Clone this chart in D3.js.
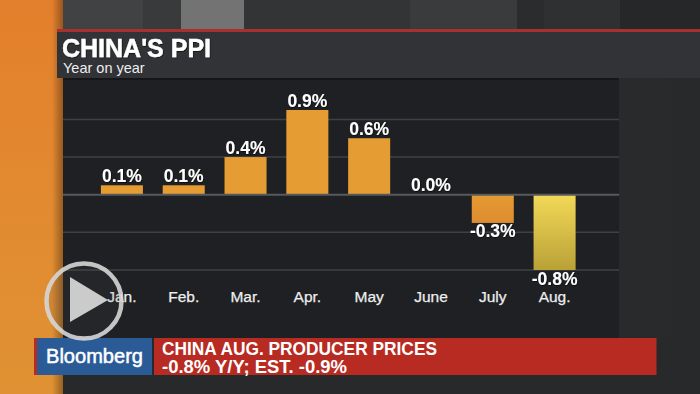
<!DOCTYPE html>
<html><head><meta charset="utf-8">
<script src="https://cdn.jsdelivr.net/npm/d3@7"></script>
<style>html,body{margin:0;padding:0;background:#2a2b2d;overflow:hidden}svg{display:block}text{font-family:"Liberation Sans",Arial,sans-serif}</style>
</head><body><svg id="c" width="700" height="394"></svg>
<script>
const categories=["Jan.","Feb.","Mar.","Apr.","May","June","July","Aug."];
const values=[0.1,0.1,0.4,0.9,0.6,0.0,-0.3,-0.8];
const valueLabels=["0.1%","0.1%","0.4%","0.9%","0.6%","0.0%","-0.3%","-0.8%"];
const gridValues=[0.8,0.4,-0.4,-0.8];
const title="CHINA'S PPI";
const subtitle="Year on year";
const brand="Bloomberg";
const tickerLines=["CHINA AUG. PRODUCER PRICES","-0.8% Y/Y; EST. -0.9%"];
const topStripes=[[63,143,"#414244"],[143,181,"#393a3c"],[181,244,"#737374"],[244,410,"#333436"],[410,517,"#3a3b3d"],[517,544,"#2b2c2e"],[544,620,"#2f3032"],[620,700,"#262729"]];

const svg=d3.select("#c");
const defs=svg.append("defs");
function grad(id,stops,x2=0,y2=1){const g=defs.append("linearGradient").attr("id",id).attr("x1",0).attr("y1",0).attr("x2",x2).attr("y2",y2);
  stops.forEach(([o,c])=>g.append("stop").attr("offset",o).attr("stop-color",c));}
grad("orange",[[0,"#e37f2c"],[0.5,"#e28a30"],[1,"#df9233"]]);
grad("edge",[[0,"#00000000"],[1,"#00000055"]],1,0);
grad("aug",[[0,"#f3d957"],[1,"#b9a137"]]);
grad("jul",[[0,"#e59a33"],[1,"#dd8d2f"]]);
grad("right",[[0,"#37383a"],[0.5,"#2d2e30"],[1,"#28292b"]],1,0);
const shadow=defs.append("filter").attr("id","ts").attr("x","-10%").attr("y","-10%").attr("width","125%").attr("height","130%");
shadow.append("feDropShadow").attr("dx",0.6).attr("dy",0.8).attr("stdDeviation",0.5).attr("flood-color","#000").attr("flood-opacity",0.7);

// backdrop
svg.append("rect").attr("width",700).attr("height",394).attr("fill","url(#right)");
svg.selectAll(".stripe").data(topStripes).join("rect").attr("x",d=>d[0]).attr("y",0).attr("width",d=>d[1]-d[0]).attr("height",29).attr("fill",d=>d[2]);
svg.append("rect").attr("x",0).attr("y",0).attr("width",63).attr("height",394).attr("fill","url(#orange)");
svg.append("rect").attr("x",52).attr("y",0).attr("width",11).attr("height",394).attr("fill","url(#edge)");
svg.append("rect").attr("x",63).attr("y",336).attr("width",637).attr("height",58).attr("fill","#28292b");

// panels
svg.append("rect").attr("x",63).attr("y",78).attr("width",556).attr("height",260).attr("fill","#1f2023");
svg.append("rect").attr("x",63).attr("y",78).attr("width",556).attr("height",2).attr("fill","#151618");
svg.append("rect").attr("x",57).attr("y",31).attr("width",643).attr("height",47).attr("fill","#323336");
svg.append("rect").attr("x",57).attr("y",29).attr("width",643).attr("height",3).attr("fill","#a8312f");
svg.append("text").attr("x",62).attr("y",56.5).attr("font-size",25).attr("font-weight",700).attr("fill","#fff").attr("stroke","#fff").attr("stroke-width",0.4).attr("filter","url(#ts)").text(title);
svg.append("text").attr("x",63).attr("y",73).attr("font-size",14.5).attr("fill","#eee").text(subtitle);

// scales
const x=d3.scaleBand().domain(categories).range([91,585.5]).paddingInner(0.32).paddingOuter(0.16);
const y=d3.scaleLinear().domain([0.9,-0.8]).range([110,270]);
const labelX=d=>x(d)+x.bandwidth()/2;

// grid
svg.selectAll(".grid").data(gridValues).join("line").attr("x1",63).attr("x2",619)
  .attr("y1",d=>y(d)).attr("y2",d=>y(d)).attr("stroke","#3f4043").attr("stroke-width",1.5);

// bars
const idx=categories.map((c,i)=>i);
svg.selectAll(".bar").data(idx).join("rect").attr("x",i=>x(categories[i])).attr("width",x.bandwidth())
  .attr("y",i=>y(Math.max(0,values[i]))).attr("height",i=>Math.abs(y(values[i])-y(0)))
  .attr("fill",i=>values[i]===-0.8?"url(#aug)":values[i]<0?"url(#jul)":"#e59c33");
svg.append("line").attr("x1",63).attr("x2",619).attr("y1",y(0)).attr("y2",y(0)).attr("stroke","#58595c").attr("stroke-width",2);

// value labels
svg.selectAll(".val").data(idx).join("text").attr("text-anchor","middle").attr("x",i=>labelX(categories[i]))
  .attr("y",i=>values[i]<0?y(values[i])+14.5:y(values[i])-3.5).attr("font-size",17.5).attr("font-weight",700)
  .attr("fill","#fff").attr("filter","url(#ts)").text(i=>valueLabels[i]);

// month axis
svg.selectAll(".cat").data(categories).join("text").attr("text-anchor","middle").attr("x",labelX).attr("y",301.5)
  .attr("font-size",15.5).attr("fill","#eee").attr("stroke","#eee").attr("stroke-width",0.25).text(d=>d);

// ticker
svg.append("rect").attr("x",34).attr("y",338).attr("width",4).attr("height",37).attr("fill","#b72b22");
svg.append("rect").attr("x",37).attr("y",338).attr("width",115).attr("height",37).attr("fill","#2a5b97");
svg.append("rect").attr("x",154).attr("y",338).attr("width",502.5).attr("height",37).attr("fill","#b72b22");
svg.append("text").attr("x",94.5).attr("y",363).attr("text-anchor","middle").attr("font-size",20.5).attr("fill","#fff").attr("stroke","#fff").attr("stroke-width",0.5).attr("textLength",97).attr("lengthAdjust","spacingAndGlyphs").text(brand);
const tick=svg.append("text").attr("font-size",18.5).attr("font-weight",700).attr("fill","#fff");
const tickLen=[275,185];
tickerLines.forEach((t,i)=>tick.append("tspan").attr("x",162).attr("y",[355,372.5][i]).attr("textLength",tickLen[i]).attr("lengthAdjust","spacingAndGlyphs").text(t));

// play button
svg.append("circle").attr("cx",84).attr("cy",301).attr("r",37.5).attr("fill","#55555522").attr("stroke","#d6d6d6").attr("stroke-opacity",0.9).attr("stroke-width",4.5);
svg.append("path").attr("d",d3.line()([[70,277],[70,322],[108,300]])+"Z").attr("fill","#d4d4d4").attr("fill-opacity",0.95);
</script></body></html>
